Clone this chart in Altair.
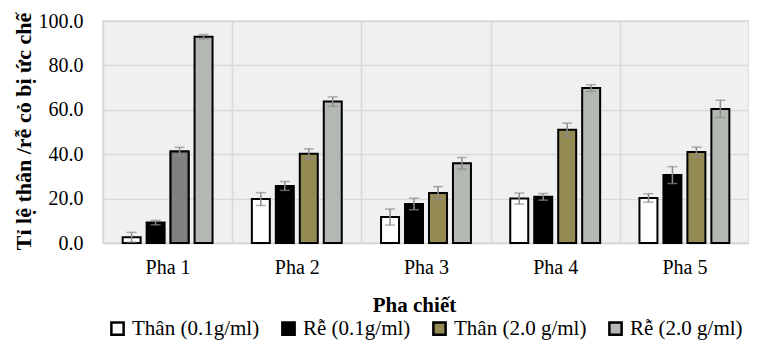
import altair as alt
import pandas as pd

phases = ["Pha 1", "Pha 2", "Pha 3", "Pha 4", "Pha 5"]
series = ["Thân (0.1g/ml)", "Rễ (0.1g/ml)", "Thân (2.0 g/ml)", "Rễ (2.0 g/ml)"]
colors = ["#ffffff", "#000000", "#948a54", "#b3b8b3"]

than_01 = [2.6, 19.8, 11.7, 20.0, 20.3]
re_01 = [9.2, 25.7, 17.6, 20.8, 30.6]
than_20 = [41.2, 40.2, 22.5, 51.0, 41.0]
re_20 = [92.9, 63.7, 35.9, 69.8, 60.4]

err_than_01 = [2.2, 2.9, 3.6, 2.5, 1.9]
err_re_01 = [1.0, 2.0, 2.6, 1.5, 3.8]
err_than_20 = [1.9, 2.2, 2.9, 3.0, 2.2]
err_re_20 = [1.0, 2.1, 2.6, 1.5, 3.9]

# bar drawn in a different colour in the original chart
override_phase = "Pha 1"
override_series = "Thân (2.0 g/ml)"
override_color = "#808080"

values = [than_01, re_01, than_20, re_20]
errors = [err_than_01, err_re_01, err_than_20, err_re_20]

rows = []
for s, vals, errs in zip(series, values, errors):
    for p, v, e in zip(phases, vals, errs):
        rows.append({
            "phase": p, "series": s, "value": v,
            "lo": v - e, "hi": v + e,
            "override": (p == override_phase and s == override_series),
        })
df = pd.DataFrame(rows)

FONT = "Liberation Serif"

x_enc = alt.X(
    "phase:N", sort=phases,
    scale=alt.Scale(paddingInner=0, paddingOuter=0),
    axis=alt.Axis(
        title="Pha chiết", labelAngle=0, tickBand="extent", grid=True,
        gridColor="#d9d9d9", gridWidth=1.5, ticks=False, domain=True,
        domainColor="#d9d9d9", domainWidth=1.5,
        labelFont=FONT, labelFontSize=20, labelColor="black", labelPadding=14,
        titleFont=FONT, titleFontSize=21, titleFontWeight="bold", titleColor="black",
        titleX=311, titleY=68, titleBaseline="alphabetic", titleAlign="center",
    ),
)
xoff_enc = alt.XOffset(
    "series:N", sort=series,
    scale=alt.Scale(domain=series, paddingInner=0.25, paddingOuter=0.82),
)
y_scale = alt.Scale(domain=[0, 100], nice=False)

bars = alt.Chart(df).mark_bar(stroke="black", strokeWidth=2).encode(
    x=x_enc,
    xOffset=xoff_enc,
    y=alt.Y(
        "value:Q", scale=y_scale,
        axis=alt.Axis(
            title="Tỉ lệ thân /rễ cỏ bị ức chế", values=[0, 20, 40, 60, 80, 100],
            format=".1f", domain=False, ticks=False, grid=True,
            gridColor="#d9d9d9", gridWidth=1.5,
            labelFont=FONT, labelFontSize=20, labelColor="black", labelPadding=20,
            titleFont=FONT, titleFontSize=22, titleFontWeight="bold", titleColor="black",
            titleAngle=-90, titleX=-80, titleY=110, titleAlign="center", titleBaseline="middle",
        ),
    ),
    fill=alt.Fill(
        "series:N", sort=series,
        scale=alt.Scale(domain=series, range=colors),
        legend=alt.Legend(
            title=None, orient="none", direction="horizontal", legendX=4, legendY=297,
            symbolType="square", symbolSize=150, symbolStrokeColor="black",
            symbolStrokeWidth=2.5, labelFont=FONT, labelFontSize=21, labelColor="black",
            labelOffset=4, columnPadding=17, columns=4, labelLimit=300,
        ),
    ),
)

special = alt.Chart(df).transform_filter("datum.override").mark_bar(
    stroke="black", strokeWidth=2, fill=override_color
).encode(x=alt.X("phase:N", sort=phases), xOffset=xoff_enc, y=alt.Y("value:Q", scale=y_scale))

err_rule = alt.Chart(df).mark_rule(color="#8c8c8c", strokeWidth=1.5).encode(
    x=alt.X("phase:N", sort=phases), xOffset=xoff_enc,
    y=alt.Y("lo:Q", scale=y_scale), y2="hi:Q",
)
cap_hi = alt.Chart(df).mark_tick(color="#8c8c8c", thickness=1.5, size=10).encode(
    x=alt.X("phase:N", sort=phases), xOffset=xoff_enc, y=alt.Y("hi:Q", scale=y_scale),
)
cap_lo = alt.Chart(df).mark_tick(color="#8c8c8c", thickness=1.5, size=10).encode(
    x=alt.X("phase:N", sort=phases), xOffset=xoff_enc, y=alt.Y("lo:Q", scale=y_scale),
)

chart = alt.layer(bars, special, err_rule, cap_hi, cap_lo).properties(
    width=646, height=222,
    autosize=alt.AutoSizeParams(type="none"),
    padding={"left": 95, "top": 13, "right": 0, "bottom": 99},
    background="white",
).configure_view(fill="#f0f0f0", stroke="#d9d9d9", strokeWidth=1.5)

chart.save("out.html", embed_options={"renderer": "svg", "actions": False})
